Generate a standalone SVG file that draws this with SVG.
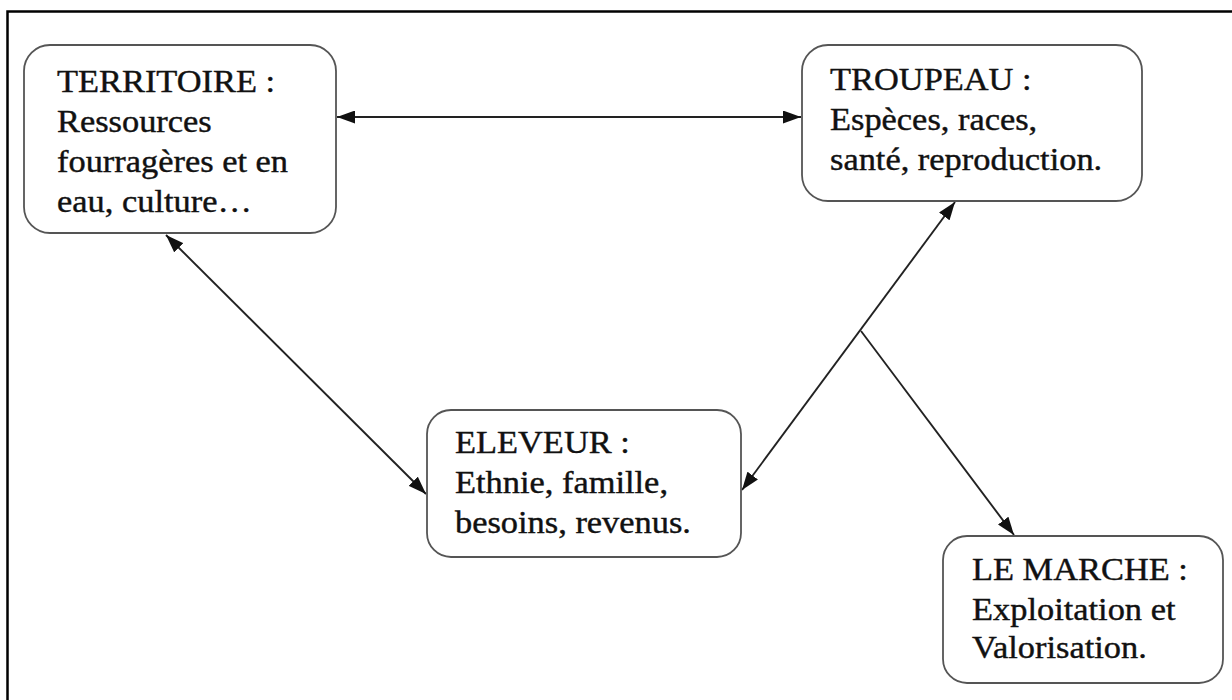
<svg xmlns="http://www.w3.org/2000/svg" width="1232" height="700" viewBox="0 0 1232 700">
<style>
.frame{fill:none;stroke:#000;stroke-width:2.5}
.box{fill:#fff;stroke:#555;stroke-width:1.8}
.lbl{font-family:"Liberation Serif","Times New Roman",serif;font-size:31px;fill:#111;stroke:#111;stroke-width:0.4}
.conn{fill:none;stroke:#222;stroke-width:1.9}
</style>
<defs>
<marker id="ah" viewBox="0 0 18 13" refX="18" refY="6.5" markerWidth="18" markerHeight="13" markerUnits="userSpaceOnUse" orient="auto-start-reverse">
<path d="M0,0 L18,6.5 L0,13 Z" fill="#111"/>
</marker>
</defs>
<rect width="1232" height="700" fill="#fff"/>
<rect class="frame" x="7.5" y="11.5" width="1240" height="700"/>
<g id="connectors">
<line class="conn" x1="337" y1="117" x2="801" y2="117" marker-start="url(#ah)" marker-end="url(#ah)"/>
<line class="conn" x1="166" y1="235" x2="426" y2="494" marker-start="url(#ah)" marker-end="url(#ah)"/>
<line class="conn" x1="955" y1="202" x2="742" y2="490" marker-start="url(#ah)" marker-end="url(#ah)"/>
<line class="conn" x1="861" y1="331" x2="1014" y2="535" marker-end="url(#ah)"/>
</g>
<g id="territoire">
<rect class="box" x="24" y="45" width="312" height="188" rx="26"/>
<text class="lbl" transform="translate(57,92) scale(1.11,1)"><tspan x="0" y="0">TERRITOIRE :</tspan><tspan x="0" y="40">Ressources</tspan><tspan x="0" y="80">fourragères et en</tspan><tspan x="0" y="120">eau, culture…</tspan></text>
</g>
<g id="troupeau">
<rect class="box" x="802" y="45" width="340" height="156" rx="26"/>
<text class="lbl" transform="translate(830,90) scale(1.11,1)"><tspan x="0" y="0">TROUPEAU :</tspan><tspan x="0" y="40">Espèces, races,</tspan><tspan x="0" y="80">santé, reproduction.</tspan></text>
</g>
<g id="eleveur">
<rect class="box" x="427" y="410" width="314" height="147" rx="24"/>
<text class="lbl" transform="translate(455,453) scale(1.11,1)"><tspan x="0" y="0">ELEVEUR :</tspan><tspan x="0" y="40">Ethnie, famille,</tspan><tspan x="0" y="80">besoins, revenus.</tspan></text>
</g>
<g id="marche">
<rect class="box" x="943" y="536" width="280" height="147" rx="24"/>
<text class="lbl" transform="translate(972,580) scale(1.11,1)"><tspan x="0" y="0">LE MARCHE :</tspan><tspan x="0" y="40">Exploitation et</tspan><tspan x="0" y="78">Valorisation.</tspan></text>
</g>
</svg>
